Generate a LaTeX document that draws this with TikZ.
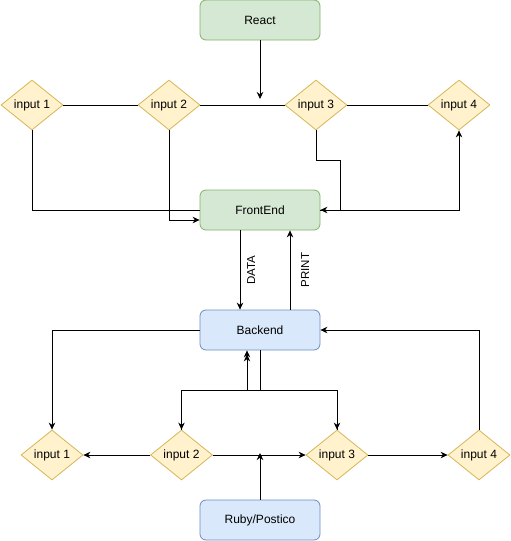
\documentclass[tikz,border=0pt]{standalone}
\usepackage{fontspec}
\setmainfont{Liberation Sans}
\usetikzlibrary{shapes.geometric,arrows.meta,calc}
\definecolor{gfill}{HTML}{D5E8D4}
\definecolor{gline}{HTML}{82B366}
\definecolor{bfill}{HTML}{DAE8FC}
\definecolor{bline}{HTML}{6C8EBF}
\definecolor{yfill}{HTML}{FFF2CC}
\definecolor{yline}{HTML}{D6B656}
\begin{document}
\begin{tikzpicture}[x=1pt,y=-1pt,
  font=\fontsize{12}{14}\selectfont,
  gbox/.style={draw=gline,fill=gfill,rounded corners=6pt,minimum width=120pt,minimum height=40pt,inner sep=0pt,line width=0.8pt},
  bbox/.style={draw=bline,fill=bfill,rounded corners=6pt,minimum width=120pt,minimum height=40pt,inner sep=0pt,line width=0.8pt},
  dia/.style={diamond,draw=yline,fill=yfill,minimum width=62pt,minimum height=50pt,inner sep=0pt,line width=0.8pt},
  conn/.style={draw=black,line width=0.8pt},
  arr/.style={conn,-{Stealth[length=7pt,width=6.5pt,inset=2.2pt]}},
  vlabel/.style={rotate=90,anchor=north,inner xsep=0pt,font=\fontsize{11.5}{13}\selectfont}
]
\useasboundingbox (0,0) rectangle (511,541);

% nodes
\node[gbox] (react) at (260,20) {React};
\node[gbox] (fe) at (260,210) {FrontEnd};
\node[bbox] (be) at (260,330) {Backend};
\node[bbox] (ruby) at (260,520) {Ruby/Postico};

\node[dia] (t1) at (32,105) {input 1};
\node[dia] (t2) at (169,105) {input 2};
\node[dia] (t3) at (316,105) {input 3};
\node[dia] (t4) at (459,105) {input 4};

\node[dia] (b1) at (52,455) {input 1};
\node[dia] (b2) at (181.5,455) {input 2};
\node[dia] (b3) at (337,455) {input 3};
\node[dia] (b4) at (479,455) {input 4};

\coordinate (rj) at (260,99);
\coordinate (bj) at (260,390);
\coordinate (bk) at (247,390);
\coordinate (rbj) at (260,453);

% top connectors
\draw[conn] (t1.east) -- (t2.west);
\draw[conn] (t2.east) -- (t3.west);
\draw[conn] (t3.east) -- (t4.west);
\draw[arr] (react.south) -- (rj);
\draw[conn] (t1.south) |- (fe.west);
\draw[arr] (t2.south) |- ($(fe.west)+(0,10)$);
\draw[arr] (t3.south) |- (340,160) |- (fe.east);
\draw[arr] (fe.east) -| (t4.south);

% middle
\draw[arr] ($(fe.south)+(-20,0)$) -- node[midway,vlabel,inner ysep=6.9pt] {DATA} ($(be.north)+(-20,0)$);
\draw[arr] ($(be.north)+(30,0)$) -- node[midway,vlabel,inner ysep=10.9pt] {PRINT} ($(fe.south)+(30,0)$);

% bottom connectors
\draw[arr] (be.west) -| (b1.north);
\draw[arr] (b4.north) |- (be.east);
\draw[arr] (be.south) -- (bj) -| (b2.north);
\draw[arr] (be.south) -- (bj) -| (b3.north);
\draw[arr] (b2.north) |- (bk) -- (bk |- be.south);
\draw[arr,shorten >=4pt] (b3.north) |- (bk) -- (bk |- be.south);
\draw[arr] (b2.west) -- (b1.east);
\draw[arr] (b2.east) -- (b3.west);
\draw[arr] (b3.east) -- (b4.west);
\draw[arr] (ruby.north) -- (rbj);
\end{tikzpicture}
\end{document}
